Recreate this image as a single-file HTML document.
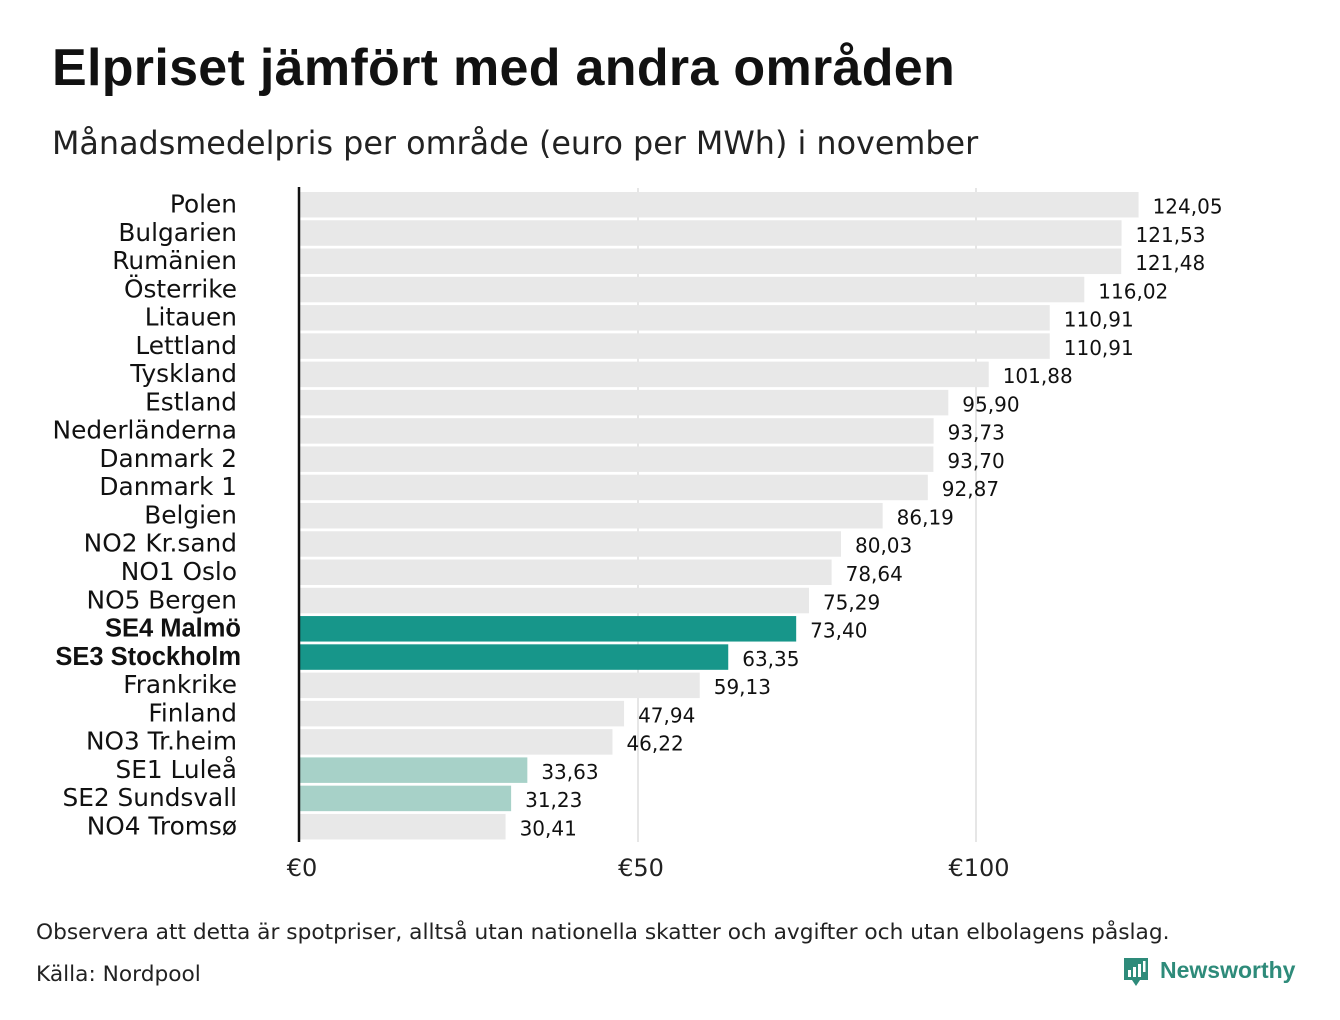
<!DOCTYPE html>
<html><head><meta charset="utf-8"><style>
body{margin:0;background:#fff;font-family:"Liberation Sans","DejaVu Sans",sans-serif;}
#wrap{position:relative;width:1340px;height:1020px;overflow:hidden}
h1{position:absolute;left:52px;top:38px;margin:0;font-size:52px;font-weight:bold;color:#111;letter-spacing:0.3px}
.sub{position:absolute;left:52px;top:125px;color:#222;font-family:"DejaVu Sans",sans-serif;font-size:31.8px}
.note{position:absolute;left:36px;color:#222;font-family:"DejaVu Sans",sans-serif;font-size:21.7px}
</style></head><body><div id="wrap">
<h1>Elpriset jämfört med andra områden</h1>
<div class="sub">Månadsmedelpris per område (euro per MWh) i november</div>
<svg id="chart" width="1340" height="1020" style="position:absolute;left:0;top:0"></svg>
<div class="note" style="top:920px">Observera att detta är spotpriser, alltså utan nationella skatter och avgifter och utan elbolagens påslag.</div>
<div class="note" style="top:962px">Källa: Nordpool</div>
<div style="position:absolute;left:1122px;top:956px">
<svg width="180" height="36"><path d="M2 2h24v22h-8l-4 6-4-6H2z" fill="#2e8b7a"/><rect x="6" y="14" width="3" height="7" fill="#fff"/><rect x="11" y="11" width="3" height="10" fill="#fff"/><rect x="16" y="8" width="3" height="13" fill="#fff"/><rect x="21" y="5" width="2.5" height="11" fill="#fff"/>
<text x="38" y="22" font-size="23" font-weight="bold" fill="#2e8b7a" font-family="Liberation Sans,sans-serif">Newsworthy</text></svg></div>
</div>
<script>
const categories=["Polen","Bulgarien","Rumänien","Österrike","Litauen","Lettland","Tyskland","Estland","Nederländerna","Danmark  2","Danmark  1","Belgien","NO2 Kr.sand","NO1 Oslo","NO5 Bergen","SE4 Malmö","SE3 Stockholm","Frankrike","Finland","NO3 Tr.heim","SE1  Luleå","SE2  Sundsvall","NO4 Tromsø"];
const values=[124.05,121.53,121.48,116.02,110.91,110.91,101.88,95.90,93.73,93.70,92.87,86.19,80.03,78.64,75.29,73.40,63.35,59.13,47.94,46.22,33.63,31.23,30.41];
const highlight=["","","","","","","","","","","","","","","","dark","dark","","","","light","light",""];
const ticks=[0,50,100];
const tickLabels=["€0","€50","€100"];
const NS="http://www.w3.org/2000/svg";
const svg=document.getElementById('chart');
const x0=300,pxPer=6.76;
function xs(v){return x0+v*pxPer;}
function ys(i){return 204.5+i*28.27;}
function mk(t,a){const e=document.createElementNS(NS,t);for(const k in a)e.setAttribute(k,a[k]);svg.appendChild(e);return e;}
ticks.forEach((t,i)=>{
 if(t>0){const g=mk('line',{x1:xs(t),x2:xs(t),y1:188,y2:842,stroke:'#cccccc','stroke-width':1});
 
 }
 const tx=mk('text',{x:xs(t)+(t==0?2:3),y:876,'font-size':24,'text-anchor':'middle',fill:'#222','font-family':'DejaVu Sans,sans-serif'});
 tx.textContent=tickLabels[i];
 
 
});
categories.forEach((c,i)=>{
 const col=highlight[i]=='dark'?'#17968a':highlight[i]=='light'?'#a7d1c8':'#e8e8e8';
 const r=mk('rect',{x:x0,y:ys(i)-12.5,width:xs(values[i])-x0,height:25.5,fill:col});
 
 
 const bold=highlight[i]=='dark';
 const l=mk('text',{x:bold?241:237,y:ys(i)+8,'font-size':bold?25.5:24.8,'text-anchor':'end','xml:space':'preserve',fill:'#111','font-weight':bold?'bold':'normal','font-family':bold?'Liberation Sans,sans-serif':'DejaVu Sans,sans-serif'});
 l.textContent=c;
 
 
 const v=mk('text',{x:xs(values[i])+14,y:ys(i)+9,'font-size':20,fill:'#111','font-family':'DejaVu Sans,sans-serif'});
 v.textContent=values[i].toFixed(2).replace('.',',');
 
 
});
const ax=mk('line',{x1:299,x2:299,y1:187,y2:842,stroke:'#111','stroke-width':2.5});


</script></body></html>
